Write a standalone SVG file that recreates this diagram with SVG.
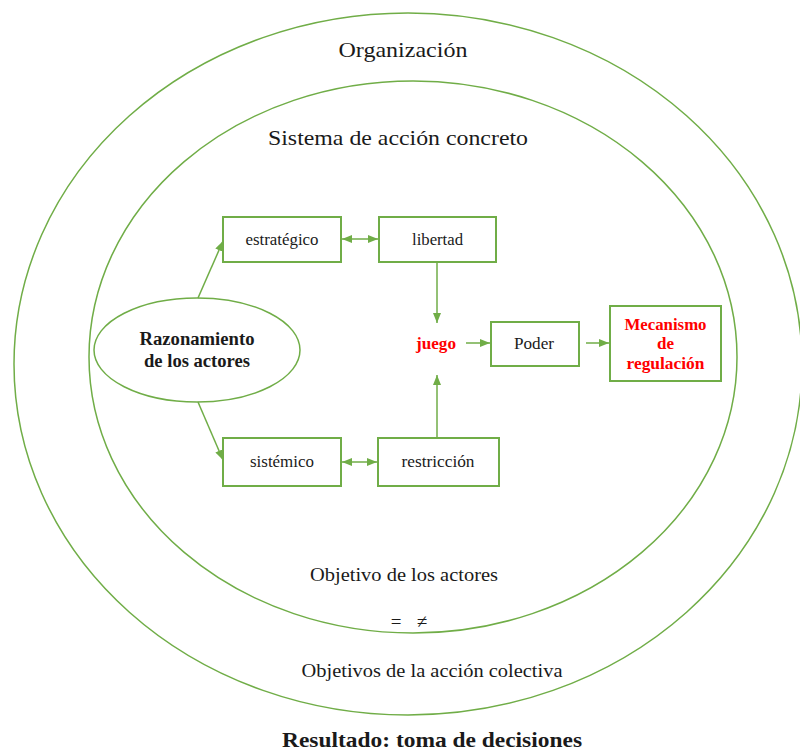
<svg xmlns="http://www.w3.org/2000/svg" width="800" height="755" viewBox="0 0 800 755">
<defs>
<marker id="ah" markerWidth="10" markerHeight="8" refX="10" refY="4" orient="auto" markerUnits="userSpaceOnUse">
<path d="M0,0 L10,4 L0,8 Z" fill="#70AD47"/>
</marker>
<marker id="as" markerWidth="10" markerHeight="8" refX="0" refY="4" orient="auto" markerUnits="userSpaceOnUse">
<path d="M10,0 L0,4 L10,8 Z" fill="#70AD47"/>
</marker>
<style>
.ring{fill:none;stroke:#70AD47;stroke-width:1.5}
.box{fill:#fff;stroke:#70AD47;stroke-width:2}
.t{font-family:"Liberation Serif","Times New Roman",serif;fill:#1a1a1a;text-anchor:middle}
.b{font-weight:bold}
.r{fill:#FF0000;font-weight:bold}
.c{fill:none;stroke:#70AD47;stroke-width:1.5}
</style>
</defs>
<rect width="800" height="755" fill="#fff"/>
<g id="organizacion">
<ellipse class="ring" cx="408" cy="364" rx="394" ry="351"/>
<text class="t" x="403" y="57" font-size="22" textLength="129" lengthAdjust="spacingAndGlyphs">Organización</text>
</g>
<g id="sistema">
<ellipse class="ring" cx="413" cy="357" rx="324" ry="276"/>
<text class="t" x="398" y="145" font-size="22" textLength="260" lengthAdjust="spacingAndGlyphs">Sistema de acción concreto</text>
</g>
<g id="razonamiento">
<ellipse class="ring" cx="197" cy="350" rx="103" ry="52"/>
<text class="t b" x="197" y="345" font-size="18" textLength="115" lengthAdjust="spacingAndGlyphs">Razonamiento</text>
<text class="t b" x="197" y="367" font-size="18" textLength="106" lengthAdjust="spacingAndGlyphs">de los actores</text>
</g>
<g id="estrategico">
<rect class="box" x="223" y="217" width="118" height="45"/>
<text class="t" x="282" y="245" font-size="16" textLength="73" lengthAdjust="spacingAndGlyphs">estratégico</text>
</g>
<g id="libertad">
<rect class="box" x="379" y="217" width="117" height="45"/>
<text class="t" x="437.5" y="245" font-size="16" textLength="51" lengthAdjust="spacingAndGlyphs">libertad</text>
</g>
<g id="sistemico">
<rect class="box" x="223" y="438" width="118" height="48"/>
<text class="t" x="282" y="467" font-size="16" textLength="64" lengthAdjust="spacingAndGlyphs">sistémico</text>
</g>
<g id="restriccion">
<rect class="box" x="378" y="438" width="121" height="48"/>
<text class="t" x="438" y="467" font-size="16" textLength="73" lengthAdjust="spacingAndGlyphs">restricción</text>
</g>
<g id="juego">
<text class="t r" x="436" y="349" font-size="17" textLength="40" lengthAdjust="spacingAndGlyphs">juego</text>
</g>
<g id="poder">
<rect class="box" x="491" y="322" width="88" height="44"/>
<text class="t" x="534" y="349" font-size="16" textLength="40" lengthAdjust="spacingAndGlyphs">Poder</text>
</g>
<g id="mecanismo">
<rect class="box" x="610" y="306" width="111" height="75"/>
<text class="t r" x="665.5" y="330" font-size="17" textLength="82" lengthAdjust="spacingAndGlyphs">Mecanismo</text>
<text class="t r" x="665.5" y="349" font-size="17">de</text>
<text class="t r" x="665.5" y="369" font-size="17" textLength="78" lengthAdjust="spacingAndGlyphs">regulación</text>
</g>
<g id="texts">
<text class="t" x="404" y="581" font-size="19" textLength="188" lengthAdjust="spacingAndGlyphs">Objetivo de los actores</text>
<text class="t" x="396" y="628" font-size="19">=</text>
<text class="t" x="422" y="628" font-size="19">≠</text>
<text class="t" x="432" y="677" font-size="19" textLength="261" lengthAdjust="spacingAndGlyphs">Objetivos de la acción colectiva</text>
<text class="t b" x="432" y="747" font-size="22" textLength="300" lengthAdjust="spacingAndGlyphs">Resultado: toma de decisiones</text>
</g>
<g id="connectors">
<line class="c" x1="198" y1="298" x2="223" y2="241" marker-end="url(#ah)"/>
<line class="c" x1="198" y1="402" x2="223" y2="460" marker-end="url(#ah)"/>
<line class="c" x1="342" y1="239" x2="378" y2="239" marker-start="url(#as)" marker-end="url(#ah)"/>
<line class="c" x1="342" y1="462" x2="377" y2="462" marker-start="url(#as)" marker-end="url(#ah)"/>
<line class="c" x1="437" y1="263" x2="437" y2="323" marker-end="url(#ah)"/>
<line class="c" x1="437" y1="437" x2="437" y2="375" marker-end="url(#ah)"/>
<line class="c" x1="466" y1="343" x2="490" y2="343" marker-end="url(#ah)"/>
<line class="c" x1="586" y1="343" x2="609" y2="343" marker-end="url(#ah)"/>
</g>
</svg>
